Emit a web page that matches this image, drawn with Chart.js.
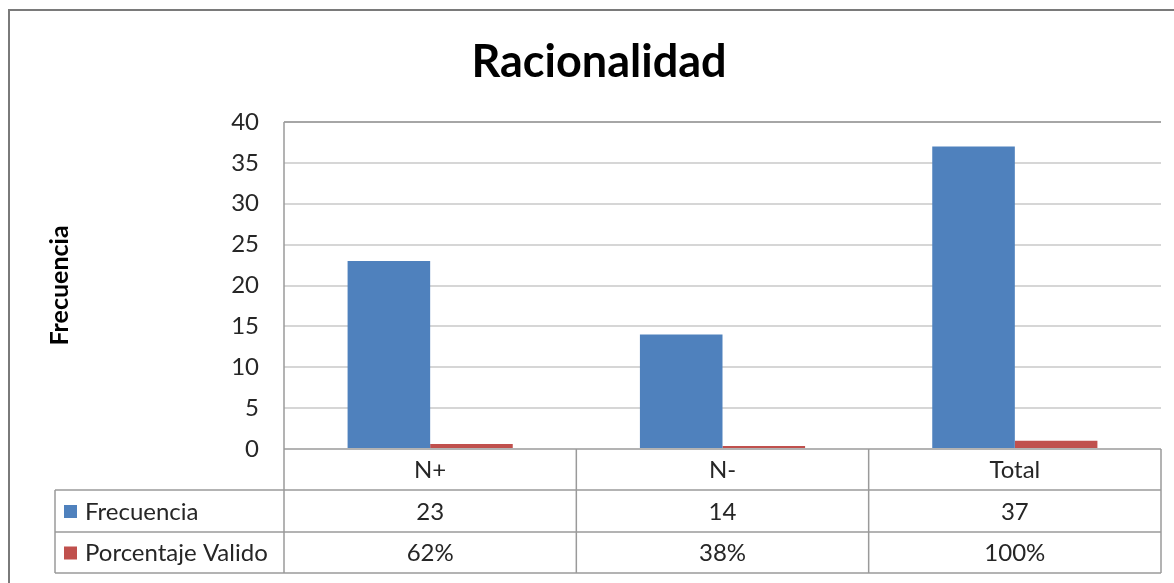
<!DOCTYPE html>
<html>
<head>
<meta charset="utf-8">
<script src="https://cdn.jsdelivr.net/npm/chart.js@4/dist/chart.umd.min.js"></script>
<style>
  html, body { margin: 0; padding: 0; background: #ffffff; }
  #wrap { width: 1174px; height: 583px; }
</style>
</head>
<body>
<div id="wrap"><canvas id="c" width="1174" height="583"></canvas></div>
<script>
// Categories and series
const categories = ['N+', 'N-', 'Total'];
const frecuencia = [23, 14, 37];
const porcentajeValido = [0.62, 0.38, 1.00];
const yTicks = [0, 5, 10, 15, 20, 25, 30, 35, 40];

const seriesNames = ['Frecuencia', 'Porcentaje Valido'];
const seriesColors = ['#4F81BD', '#C0504D'];

const FONT = 'Lato, "Open Sans", sans-serif';
const TEXT = '#262626';
const LINE = '#9a9a9a';

// Frame, title and data table under the plot
const frameAndTable = {
  id: 'frameAndTable',
  beforeDraw(chart) {
    const ctx = chart.ctx;
    ctx.save();
    ctx.fillStyle = '#ffffff';
    ctx.fillRect(0, 0, chart.width, chart.height);
    ctx.restore();
  },
  afterDraw(chart) {
    const ctx = chart.ctx;
    const area = chart.chartArea;
    const x = chart.scales.x;
    ctx.save();

    // outer frame
    ctx.strokeStyle = '#7a7a7a';
    ctx.lineWidth = 2;
    ctx.strokeRect(9, 10, chart.width + 20, chart.height + 20);

    // title
    ctx.fillStyle = '#000000';
    ctx.font = 'bold 45px ' + FONT;
    ctx.textAlign = 'center';
    ctx.textBaseline = 'alphabetic';
    ctx.fillText('Racionalidad', 599, 77);

    // table geometry
    const tableLeft = 55;
    const rowTops = [area.bottom, 490, 532, 573];
    const colEdges = [area.left];
    for (let i = 0; i < categories.length; i++) {
      colEdges.push(area.left + (area.right - area.left) * (i + 1) / categories.length);
    }

    ctx.strokeStyle = LINE;
    ctx.lineWidth = 1.5;
    ctx.beginPath();
    // horizontal rules
    ctx.moveTo(area.left, rowTops[0]); ctx.lineTo(area.right, rowTops[0]);
    for (let r = 1; r < rowTops.length; r++) {
      ctx.moveTo(tableLeft, rowTops[r]); ctx.lineTo(area.right, rowTops[r]);
    }
    // vertical rules
    ctx.moveTo(tableLeft, rowTops[1]); ctx.lineTo(tableLeft, rowTops[3]);
    ctx.moveTo(area.left, area.top); ctx.lineTo(area.left, rowTops[3]);
    for (let c = 1; c < colEdges.length; c++) {
      ctx.moveTo(colEdges[c], rowTops[0]); ctx.lineTo(colEdges[c], rowTops[3]);
    }
    ctx.stroke();

    // cell text
    ctx.fillStyle = TEXT;
    ctx.font = '24px ' + FONT;
    ctx.textAlign = 'center';
    ctx.textBaseline = 'middle';
    const rowMid = r => (rowTops[r] + rowTops[r + 1]) / 2 + 1;
    categories.forEach((cat, i) => {
      const cx = x.getPixelForValue(i);
      ctx.fillText(cat, cx, rowMid(0));
      ctx.fillText(String(frecuencia[i]), cx, rowMid(1));
      ctx.fillText(Math.round(porcentajeValido[i] * 100) + '%', cx, rowMid(2));
    });

    // legend keys in the table
    ctx.textAlign = 'left';
    seriesNames.forEach((name, s) => {
      const my = rowMid(s + 1);
      ctx.fillStyle = seriesColors[s];
      ctx.fillRect(64, my - 7, 13, 13);
      ctx.fillStyle = TEXT;
      ctx.fillText(name, 85, my);
    });

    ctx.restore();
  }
};

new Chart(document.getElementById('c'), {
  type: 'bar',
  data: {
    labels: categories,
    datasets: [
      { label: seriesNames[0], data: frecuencia, backgroundColor: seriesColors[0],
        barPercentage: 1.0, categoryPercentage: 0.565 },
      { label: seriesNames[1], data: porcentajeValido, backgroundColor: seriesColors[1],
        barPercentage: 1.0, categoryPercentage: 0.565 }
    ]
  },
  options: {
    responsive: false,
    animation: false,
    devicePixelRatio: 1,
    layout: { padding: { top: 122, right: 13, bottom: 0, left: 0 } },
    plugins: {
      legend: { display: false },
      title: { display: false },
      tooltip: { enabled: false }
    },
    scales: {
      x: {
        ticks: { display: false },
        grid: { display: false, drawTicks: false },
        border: { display: false },
        afterFit(scale) { scale.height = 134; }
      },
      y: {
        min: 0,
        max: 40,
        afterBuildTicks(scale) { scale.ticks = yTicks.map(v => ({ value: v })); },
        ticks: {
          padding: 25,
          color: TEXT,
          font: { family: FONT, size: 24 }
        },
        grid: {
          drawTicks: false,
          lineWidth: 2,
          color: ctx => (ctx.tick && ctx.tick.value === 40) ? '#a6a6a6' : (ctx.tick && ctx.tick.value === 0 ? 'rgba(0,0,0,0)' : '#d6d6d6')
        },
        border: { display: false },
        title: {
          display: true,
          text: 'Frecuencia',
          color: '#000000',
          font: { family: FONT, size: 25, weight: 'bold' },
          padding: { top: 45, bottom: 0 }
        },
        afterFit(scale) { scale.width = 284; }
      }
    }
  },
  plugins: [frameAndTable]
});
</script>
</body>
</html>
